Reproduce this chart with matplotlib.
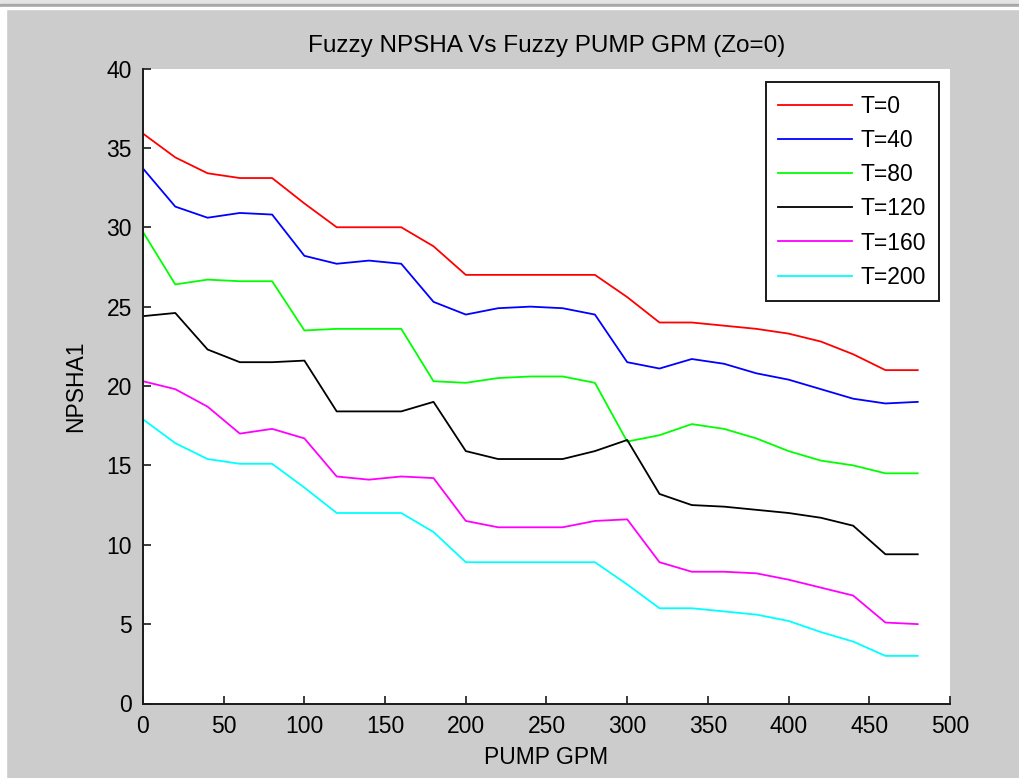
import numpy as np
import matplotlib.pyplot as plt
from matplotlib.patches import Rectangle

plt.rcParams['font.family'] = ['Liberation Sans', 'DejaVu Sans']

gpm = np.arange(0, 481, 20)

npsha_t0 = [35.9, 34.4, 33.4, 33.1, 33.1, 31.5, 30.0, 30.0, 30.0, 28.8, 27.0, 27.0, 27.0,
            27.0, 27.0, 25.6, 24.0, 24.0, 23.8, 23.6, 23.3, 22.8, 22.0, 21.0, 21.0]
npsha_t40 = [33.7, 31.3, 30.6, 30.9, 30.8, 28.2, 27.7, 27.9, 27.7, 25.3, 24.5, 24.9, 25.0,
             24.9, 24.5, 21.5, 21.1, 21.7, 21.4, 20.8, 20.4, 19.8, 19.2, 18.9, 19.0]
npsha_t80 = [29.7, 26.4, 26.7, 26.6, 26.6, 23.5, 23.6, 23.6, 23.6, 20.3, 20.2, 20.5, 20.6,
             20.6, 20.2, 16.5, 16.9, 17.6, 17.3, 16.7, 15.9, 15.3, 15.0, 14.5, 14.5]
npsha_t120 = [24.4, 24.6, 22.3, 21.5, 21.5, 21.6, 18.4, 18.4, 18.4, 19.0, 15.9, 15.4, 15.4,
              15.4, 15.9, 16.6, 13.2, 12.5, 12.4, 12.2, 12.0, 11.7, 11.2, 9.4, 9.4]
npsha_t160 = [20.3, 19.8, 18.7, 17.0, 17.3, 16.7, 14.3, 14.1, 14.3, 14.2, 11.5, 11.1, 11.1,
              11.1, 11.5, 11.6, 8.9, 8.3, 8.3, 8.2, 7.8, 7.3, 6.8, 5.1, 5.0]
npsha_t200 = [17.9, 16.4, 15.4, 15.1, 15.1, 13.6, 12.0, 12.0, 12.0, 10.8, 8.9, 8.9, 8.9,
              8.9, 8.9, 7.5, 6.0, 6.0, 5.8, 5.6, 5.2, 4.5, 3.9, 3.0, 3.0]

series = [npsha_t0, npsha_t40, npsha_t80, npsha_t120, npsha_t160, npsha_t200]
labels = ['T=0', 'T=40', 'T=80', 'T=120', 'T=160', 'T=200']
colors = ['#ff0000', '#0000ff', '#00ff00', '#000000', '#ff00ff', '#00ffff']

fig = plt.figure(figsize=(10.2, 7.78), dpi=100, facecolor='#cccccc')

# window frame bits along the top and left edge
W, H = 1020, 778
fig.patches.append(Rectangle((0, 1 - 4 / H), 1, 4 / H, transform=fig.transFigure,
                             color='#e4e4e4', zorder=0))
fig.patches.append(Rectangle((0, 1 - 7 / H), 1, 3 / H, transform=fig.transFigure,
                             color='#a8a8a8', zorder=0))
fig.patches.append(Rectangle((0, 1 - 9 / H), 1, 2 / H, transform=fig.transFigure,
                             color='#ffffff', zorder=0))
fig.patches.append(Rectangle((0, 0), 6 / W, 1 - 9 / H, transform=fig.transFigure,
                             color='#ffffff', zorder=0))

ax = fig.add_axes([143 / W, (H - 703.5) / H, 807 / W, 635 / H])
ax.set_facecolor('white')

for ys, lab, c in zip(series, labels, colors):
    ax.plot(gpm, ys, color=c, lw=1.3, label=lab)

ax.set_xlim(0, 500)
ax.set_ylim(0, 40)
ax.set_xticks(np.arange(0, 501, 50))
ax.set_yticks(np.arange(0, 41, 5))

for s in ['top', 'right']:
    ax.spines[s].set_visible(False)
for s in ['left', 'bottom']:
    ax.spines[s].set_linewidth(1.4)
    ax.spines[s].set_color('#1a1a1a')

ax.tick_params(axis='both', direction='in', length=6, width=1.2, labelsize=16.5,
               color='#1a1a1a')
ax.tick_params(axis='x', pad=8)
ax.tick_params(axis='y', pad=8)

ax.set_title('Fuzzy NPSHA Vs Fuzzy PUMP GPM (Zo=0)', fontsize=17.5, pad=12)
ax.set_xlabel('PUMP GPM', fontsize=16.5, labelpad=6)
ax.set_ylabel('NPSHA1', fontsize=16.5, labelpad=14)

leg = ax.legend(loc='upper right', bbox_to_anchor=((939 - 143) / 807, (703.5 - 82) / 635),
                borderaxespad=0, fontsize=16.5, fancybox=False, framealpha=1,
                edgecolor='#1a1a1a', handlelength=3.2, handletextpad=0.4,
                labelspacing=0.49, borderpad=0.55)
leg.get_frame().set_linewidth(1.4)

fig.savefig('out.png', dpi=100, facecolor=fig.get_facecolor())
